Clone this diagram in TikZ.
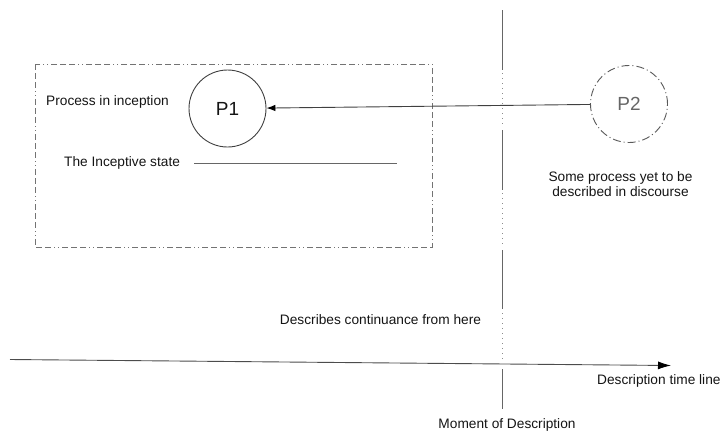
\documentclass[tikz,border=0pt]{standalone}
\usepackage{fontspec}
\setmainfont{Liberation Sans}
\usetikzlibrary{arrows.meta}
\begin{document}
\begin{tikzpicture}[x=1pt,y=-1pt,
  every node/.style={font=\fontsize{13.7}{15}\selectfont, text=black!92, inner sep=0pt},
  line/.style={draw=black!60, line width=0.9pt},
  frame/.style={draw=black!55, line width=0.9pt,
    dash pattern=on 6pt off 3pt on 6pt off 3pt on 6pt off 3pt on 1pt off 3pt on 1pt off 3pt},
  proc/.style={circle, draw=black!75, line width=0.9pt, minimum size=77pt,
    font=\fontsize{19}{21}\selectfont},
  future/.style={proc, draw=black!65, text=black!60,
    dash pattern=on 8pt off 3pt on 1pt off 3pt},
  dotline/.style={draw=black!45, line width=0.9pt, dash pattern=on 1pt off 4pt},
  solidline/.style={draw=black!60, line width=1pt}]
\useasboundingbox (0,0) rectangle (720,432);

% context box around the process in inception
\draw[frame] (35,64) rectangle (432,247);

% processes
\node[proc] (p1) at (227.5,108.5) {P1};
\node[future] (p2) at (629,104) {P2};
\draw[line, draw=black!75, -{Latex[length=9pt,width=6.5pt,color=black]}] (p2) -- (p1);

% labels inside the box
\node[anchor=west] (inc) at (46,102) {Process in inception};
\node[anchor=west] (ist) at (64,163) {The Inceptive state};
\coordinate (ia) at (194,163);
\coordinate (ib) at (397,163);
\draw[line] (ia) -- (ib);

\node[align=center] (p2lab) at (620.5,184.5) {Some process yet to be\\described in discourse};

% moment of description: alternating solid and dotted stretches
\draw[solidline] (502,10) -- (502,70);
\draw[dotline] (502,73) -- (502,127);
\draw[solidline] (502,130) -- (502,190);
\draw[dotline] (502,193) -- (502,247);
\draw[solidline] (502,250) -- (502,309);
\draw[dotline] (502,313) -- (502,360);
\draw[solidline] (502,369) -- (502,409);

\node (cont) at (380.5,320) {Describes continuance from here};

% description time line
\coordinate (t0) at (10,359.5);
\coordinate (t1) at (671,365.5);
\draw[line, draw=black!70, -{Latex[length=13pt,width=8pt,color=black]}] (t0) -- (t1);
\node[anchor=west] (tll) at (597,381) {Description time line};
\node (mod) at (507,424.5) {Moment of Description};
\end{tikzpicture}
\end{document}
